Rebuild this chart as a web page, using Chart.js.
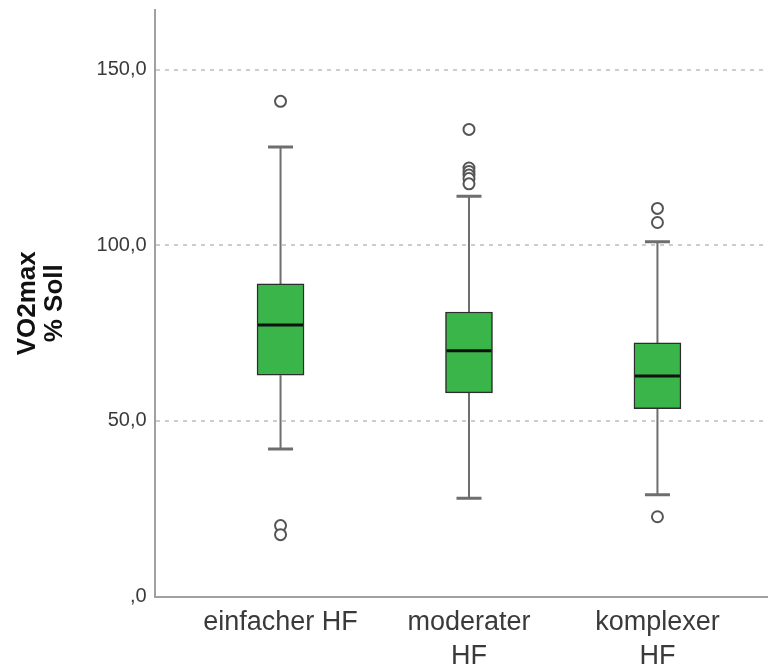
<!DOCTYPE html>
<html>
<head>
<meta charset="utf-8">
<script src="https://cdn.jsdelivr.net/npm/chart.js@4.4.1/dist/chart.umd.min.js"></script>
<style>
  html, body { margin: 0; padding: 0; background: #fff; overflow: hidden; }
  #wrap { width: 775px; height: 665px; position: relative; }
  canvas { display: block; }
</style>
</head>
<body>
<div id="wrap"><canvas id="chart"></canvas></div>
<script>
// groups on the x axis (linear positions 1..3)
const categories = ['einfacher HF', ['moderater', 'HF'], ['komplexer', 'HF']];
const positions = [1, 2, 3];

// box plot statistics, VO2max % Soll
const whiskerLow = [42, 28, 29];
const q1 = [63, 58, 53.5];
const median = [77.3, 70, 62.8];
const q3 = [89, 81, 72.2];
const whiskerHigh = [128, 114, 101];
const outliers = [
  [141, 20.2, 17.6],
  [133, 122, 121, 120, 119, 117.5],
  [110.5, 106.5, 22.7]
];

const yTicks = [0, 50, 100, 150];
const yTickLabels = [',0', '50,0', '100,0', '150,0'];

const boxData = positions.map((x, i) => ({ x: x, y: [q1[i], q3[i]] }));
const outlierData = [];
outliers.forEach((vals, i) => vals.forEach(v => outlierData.push({ x: positions[i], y: v })));

// whiskers, caps and medians drawn from the scales
const boxExtras = {
  id: 'boxExtras',
  beforeDatasetsDraw(chart) {
    const { ctx, scales: { x, y } } = chart;
    ctx.save();
    ctx.strokeStyle = '#6e6e6e';
    positions.forEach((p, i) => {
      const cx = x.getPixelForValue(p);
      ctx.lineWidth = 2;
      ctx.beginPath();
      ctx.moveTo(cx, y.getPixelForValue(q3[i]));
      ctx.lineTo(cx, y.getPixelForValue(whiskerHigh[i]));
      ctx.moveTo(cx, y.getPixelForValue(q1[i]));
      ctx.lineTo(cx, y.getPixelForValue(whiskerLow[i]));
      ctx.stroke();
      ctx.lineWidth = 3;
      ctx.beginPath();
      [whiskerHigh[i], whiskerLow[i]].forEach(v => {
        const py = y.getPixelForValue(v);
        ctx.moveTo(cx - 12.5, py);
        ctx.lineTo(cx + 12.5, py);
      });
      ctx.stroke();
    });
    ctx.restore();
  },
  afterDatasetDraw(chart, args) {
    if (args.index !== 0) return;
    const { ctx, scales: { y } } = chart;
    const meta = chart.getDatasetMeta(0);
    ctx.save();
    ctx.strokeStyle = '#111';
    ctx.lineWidth = 3;
    positions.forEach((p, i) => {
      const bar = meta.data[i];
      const half = bar.width / 2 - 1;
      const py = y.getPixelForValue(median[i]);
      ctx.beginPath();
      ctx.moveTo(bar.x - half, py);
      ctx.lineTo(bar.x + half, py);
      ctx.stroke();
    });
    ctx.restore();
  }
};

new Chart(document.getElementById('chart'), {
  type: 'bar',
  data: {
    datasets: [
      {
        type: 'bar',
        data: boxData,
        backgroundColor: '#3ab54a',
        borderColor: '#2d2d2d',
        borderWidth: 1.5,
        borderSkipped: false,
        barThickness: 47,
        order: 2
      },
      {
        type: 'scatter',
        data: outlierData,
        pointStyle: 'circle',
        pointRadius: 5.5,
        pointBackgroundColor: '#fff',
        pointBorderColor: '#555',
        pointBorderWidth: 2,
        order: 1
      }
    ]
  },
  options: {
    responsive: true,
    maintainAspectRatio: false,
    animation: false,
    layout: { padding: { left: 14, top: 0, right: 0, bottom: -17 } },
    plugins: { legend: { display: false }, tooltip: { enabled: false } },
    scales: {
      x: {
        type: 'linear',
        offset: false,
        min: 0.332,
        max: 3.584,
        afterBuildTicks(scale) {
          scale.ticks = positions.map(v => ({ value: v }));
        },
        afterFit(scale) {
          scale.paddingLeft = 0;
          scale.paddingRight = 0;
        },
        ticks: {
          autoSkip: false,
          maxRotation: 0,
          padding: 9,
          color: '#3a3a3a',
          font: { family: '"Liberation Sans", Arial, sans-serif', size: 27, lineHeight: 1.25 },
          callback: (v) => categories[positions.indexOf(v)]
        },
        grid: { display: false, drawTicks: false },
        border: { display: true, color: '#a0a0a0', width: 2 }
      },
      y: {
        min: 0,
        max: 167,
        afterBuildTicks(scale) {
          scale.ticks = yTicks.map(v => ({ value: v }));
        },
        afterFit(scale) {
          scale.paddingTop = 10;
        },
        ticks: {
          padding: 8,
          color: '#3a3a3a',
          font: { family: '"Liberation Sans", Arial, sans-serif', size: 20 },
          callback: (v) => yTickLabels[yTicks.indexOf(v)]
        },
        grid: {
          drawTicks: false,
          color: (c) => c.tick && c.tick.value === 0 ? 'rgba(0,0,0,0)' : '#cccccc',
          lineWidth: 2
        },
        border: { display: true, color: '#a0a0a0', width: 2, dash: [4, 5] },
        title: {
          display: true,
          text: ['VO2max', '% Soll'],
          color: '#111',
          font: { family: '"Liberation Sans", Arial, sans-serif', size: 26, weight: 'bold', lineHeight: 1.05 },
          padding: { top: 0, bottom: 20 }
        }
      }
    }
  },
  plugins: [boxExtras]
});
</script>
</body>
</html>
